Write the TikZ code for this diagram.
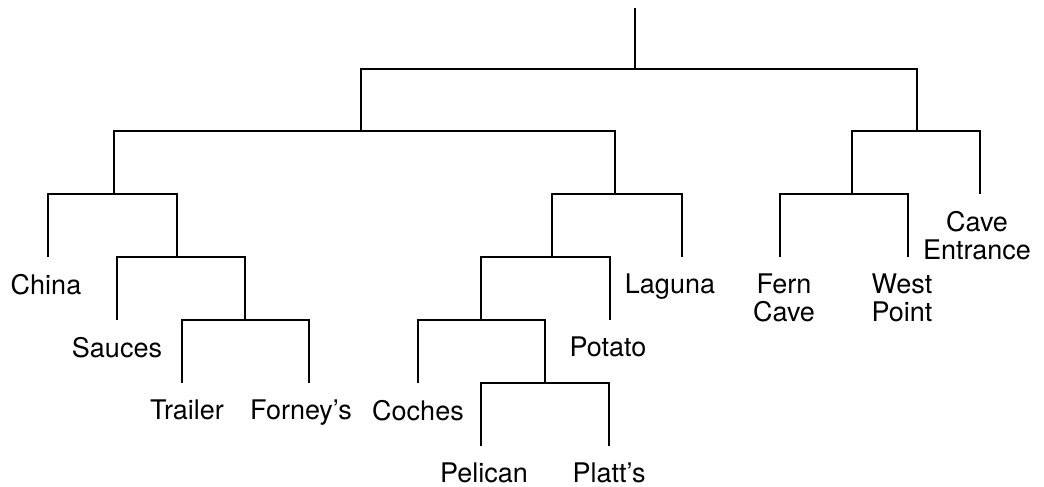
\documentclass[tikz,border=0pt]{standalone}
\usepackage{fontspec}
\setmainfont{TeX Gyre Heros}
\usetikzlibrary{positioning}

\begin{document}
\begin{tikzpicture}[x=0.5pt,y=-0.5pt,line width=1pt]

      \useasboundingbox (0,0) rectangle (1044,487);

      \coordinate (top) at (635,8);
      \coordinate (root) at (635,69);
      \coordinate (a) at (361,131);
      \coordinate (b) at (917,131);
      \coordinate (l) at (114,194);
      \coordinate (m) at (615,194);
      \coordinate (r2) at (852,194);
      \coordinate (l2) at (177,257);
      \coordinate (m2) at (552,257);
      \coordinate (l3) at (245,320);
      \coordinate (m3) at (481,320);
      \coordinate (m4) at (545,383);

      \coordinate (china) at (48,257);
      \coordinate (sauces) at (117,320);
      \coordinate (trailer) at (182,383);
      \coordinate (forney) at (309,383);
      \coordinate (coches) at (418,383);
      \coordinate (pelican) at (481,446);
      \coordinate (platts) at (609,446);
      \coordinate (potato) at (610,320);
      \coordinate (laguna) at (682,257);
      \coordinate (fern) at (780,257);
      \coordinate (west) at (908,257);
      \coordinate (entrance) at (980,194);

      \draw (top) -- (root);
      \draw (a) |- (root) -| (b);
      \draw (l) |- (a) -| (m);
      \draw (china) |- (l) -| (l2);
      \draw (sauces) |- (l2) -| (l3);
      \draw (trailer) |- (l3) -| (forney);
      \draw (m2) |- (m) -| (laguna);
      \draw (m3) |- (m2) -| (potato);
      \draw (coches) |- (m3) -| (m4);
      \draw (pelican) |- (m4) -| (platts);
      \draw (r2) |- (b) -| (entrance);
      \draw (fern) |- (r2) -| (west);

      \begin{scope}[every node/.style={inner sep=0pt,align=center,font=\fontsize{13.5}{14}\selectfont}]
        \node (t1) [below=8pt of china,xshift=-1pt] {China};
        \node (t2) [below=8pt of sauces] {Sauces};
        \node (t3) [below=8pt of trailer,xshift=2.5pt] {Trailer};
        \node (t4) [below=8pt of forney,xshift=-4pt] {Forney's};
        \node (t5) [below=8pt of coches] {Coches};
        \node (t6) [below=8pt of pelican,xshift=1.5pt] {Pelican};
        \node (t7) [below=8pt of platts] {Platt's};
        \node (t8) [below=8pt of potato,xshift=-1pt] {Potato};
        \node (t9) [below=8pt of laguna,xshift=-6pt] {Laguna};
        \node (t10) [below=8pt of fern,xshift=2pt] {Fern\\Cave};
        \node (t11) [below=8pt of west,xshift=-3pt] {West\\Point};
        \node (t12) [below=8pt of entrance,xshift=-1.5pt] {Cave\\Entrance};
      \end{scope}

    \end{tikzpicture}
\end{document}
